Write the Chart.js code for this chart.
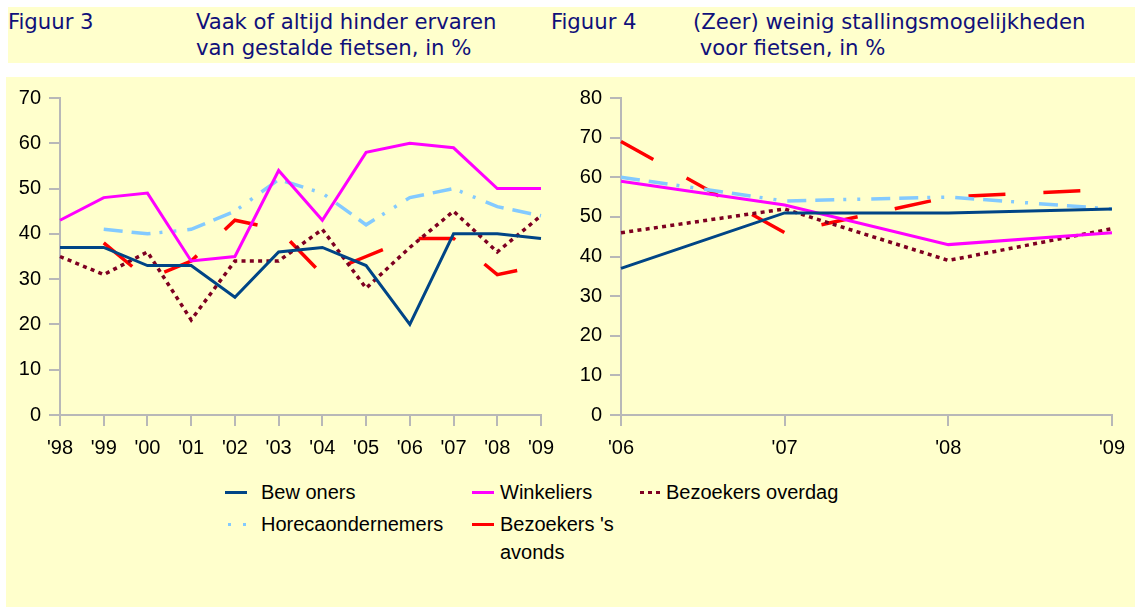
<!DOCTYPE html>
<html>
<head>
<meta charset="utf-8">
<script src="https://cdn.jsdelivr.net/npm/chart.js@4.4.1/dist/chart.umd.min.js"></script>
<style>
  body { margin: 0; background: #fff; }
  #page { position: relative; width: 1135px; height: 608px; overflow: hidden; background: #fff; }
  .band { position: absolute; left: 8px; top: 7px; width: 1127px; height: 56px; background: #ffffcc; }
  .panel { position: absolute; left: 6px; top: 77px; width: 1129px; height: 530px; background: #ffffcc; }
  .title { position: absolute; font-family: "DejaVu Sans Condensed", "DejaVu Sans", sans-serif; font-stretch: condensed;
           font-size: 22px; line-height: 26px; color: #10107a; white-space: nowrap;
           transform: scaleX(1.07); transform-origin: left top; }
  canvas { position: absolute; top: 77px; }
  .leg { position: absolute; font-family: "Liberation Sans", Arial, sans-serif; font-size: 20px; line-height: 28px; color: #000; white-space: nowrap; }
  .sym { position: absolute; height: 3px; }
</style>
</head>
<body>
<div id="page">
  <div class="band"></div>
  <div class="panel"></div>
  <div class="title" style="left:8px; top:9px;">Figuur 3</div>
  <div class="title" style="left:196px; top:9px;">Vaak of altijd hinder ervaren<br>van gestalde fietsen, in %</div>
  <div class="title" style="left:551px; top:9px;">Figuur 4</div>
  <div class="title" style="left:693px; top:9px;">(Zeer) weinig stallingsmogelijkheden<br>&nbsp;voor fietsen, in %</div>
  <canvas id="chart1" width="570" height="390" style="left:0px;"></canvas>
  <canvas id="chart2" width="565" height="390" style="left:570px;"></canvas>
  <div id="legend"></div>
</div>
<script>
// figuur 3: 1998 - 2009
let years1 = ["'98", "'99", "'00", "'01", "'02", "'03", "'04", "'05", "'06", "'07", "'08", "'09"];
let bewoners1 = [37, 37, 33, 33, 26, 36, 37, 33, 20, 40, 40, 39];
let winkeliers1 = [43, 48, 49, 34, 35, 54, 43, 58, 60, 59, 50, 50];
let overdag1 = [35, 31, 36, 21, 34, 34, 41, 28, 37, 45, 36, 44];
let horeca1 = [null, 41, 40, 41, 45, 52, 49, 42, 48, 50, 46, 44];
let avonds1 = [null, 38, 30, 34, 43, 41, 31, 35, 39, 39, 31, 33];

// figuur 4: 2006 - 2009
let years2 = ["'06", "'07", "'08", "'09"];
let bewoners2 = [37, 51, 51, 52];
let winkeliers2 = [59, 53, 43, 46];
let overdag2 = [46, 52, 39, 47];
let horeca2 = [60, 54, 55, 52];
let avonds2 = [69, 46, 55, 57];

let seriesNames = ['Bew oners', 'Winkeliers', 'Bezoekers overdag', 'Horecaondernemers', "Bezoekers 's avonds"];
let ticks1 = [0, 10, 20, 30, 40, 50, 60, 70];
let ticks2 = [0, 10, 20, 30, 40, 50, 60, 70, 80];

Chart.defaults.font.family = '"Liberation Sans", Arial, sans-serif';
Chart.defaults.font.size = 20;
Chart.defaults.color = '#000';

const axisGrey = '#b8b8b8';

function makeDatasets(b, w, o, h, a) {
  return [
    { label: seriesNames[0], data: b, borderColor: '#004586', borderWidth: 3 },
    { label: seriesNames[1], data: w, borderColor: '#ff00ff', borderWidth: 3 },
    { label: seriesNames[2], data: o, borderColor: '#7e0021', borderWidth: 3.5, borderDash: [4, 4.3] },
    { label: seriesNames[3], data: h, borderColor: '#83caff', borderWidth: 3.5, borderDash: [19, 9, 19, 9, 3, 11, 3, 11] },
    { label: seriesNames[4], data: a, borderColor: '#ff0000', borderWidth: 3.5, borderDash: [37, 38] },
  ].map(function (ds) {
    ds.pointRadius = 0;
    ds.tension = 0;
    ds.fill = false;
    ds.spanGaps = false;
    ds.borderCapStyle = 'butt';
    return ds;
  });
}

function makeOptions(yMax, yTicks, yWidth, rightPad) {
  return {
    responsive: false,
    animation: false,
    layout: { padding: { top: 21, right: rightPad, left: 0, bottom: 0 } },
    plugins: { legend: { display: false }, tooltip: { enabled: false } },
    scales: {
      x: {
        offset: false,
        grid: { display: true, drawOnChartArea: false, tickLength: 11, color: axisGrey, lineWidth: 2, offset: false },
        border: { color: axisGrey, width: 2 },
        ticks: { padding: 10, maxRotation: 0, autoSkip: false },
        afterFit: function (scale) { scale.height = 52; },
      },
      y: {
        min: 0,
        max: yMax,
        afterBuildTicks: function (scale) { scale.ticks = yTicks.map(function (v) { return { value: v }; }); },
        grid: { display: true, drawOnChartArea: false, tickLength: 11, color: axisGrey, lineWidth: 2 },
        border: { color: axisGrey, width: 2 },
        ticks: { padding: 8 },
        afterFit: function (scale) { scale.width = yWidth; },
      },
    },
  };
}

new Chart(document.getElementById('chart1').getContext('2d'), {
  type: 'line',
  data: { labels: years1, datasets: makeDatasets(bewoners1, winkeliers1, overdag1, horeca1, avonds1) },
  options: makeOptions(70, ticks1, 60, 29),
});

new Chart(document.getElementById('chart2').getContext('2d'), {
  type: 'line',
  data: { labels: years2, datasets: makeDatasets(bewoners2, winkeliers2, overdag2, horeca2, avonds2) },
  options: makeOptions(80, ticks2, 51, 23),
});

// legend underneath both charts
let legendItems = [
  { name: seriesNames[0], sx: 225, sw: 22, tx: 261, y: 478, bg: '#004586' },
  { name: seriesNames[1], sx: 472, sw: 22, tx: 500, y: 478, bg: '#ff00ff' },
  { name: seriesNames[2], sx: 640, sw: 21, tx: 666, y: 478, bg: 'repeating-linear-gradient(90deg, #7e0021 0 4px, transparent 4px 8px)' },
  { name: seriesNames[3], sx: 228, sw: 18, tx: 261, y: 510, bg: 'repeating-linear-gradient(90deg, #83caff 0 3px, transparent 3px 15px)' },
  { name: "Bezoekers 's<br>avonds", sx: 472, sw: 22, tx: 500, y: 510, bg: '#ff0000' },
];
legendItems.forEach(function (item) {
  document.querySelector('#legend').innerHTML += `
    <div class="sym" style="left:${item.sx}px; top:${item.y + 13}px; width:${item.sw}px; background:${item.bg};"></div>
    <div class="leg" style="left:${item.tx}px; top:${item.y}px;">${item.name}</div>
  `;
});
</script>
</body>
</html>
